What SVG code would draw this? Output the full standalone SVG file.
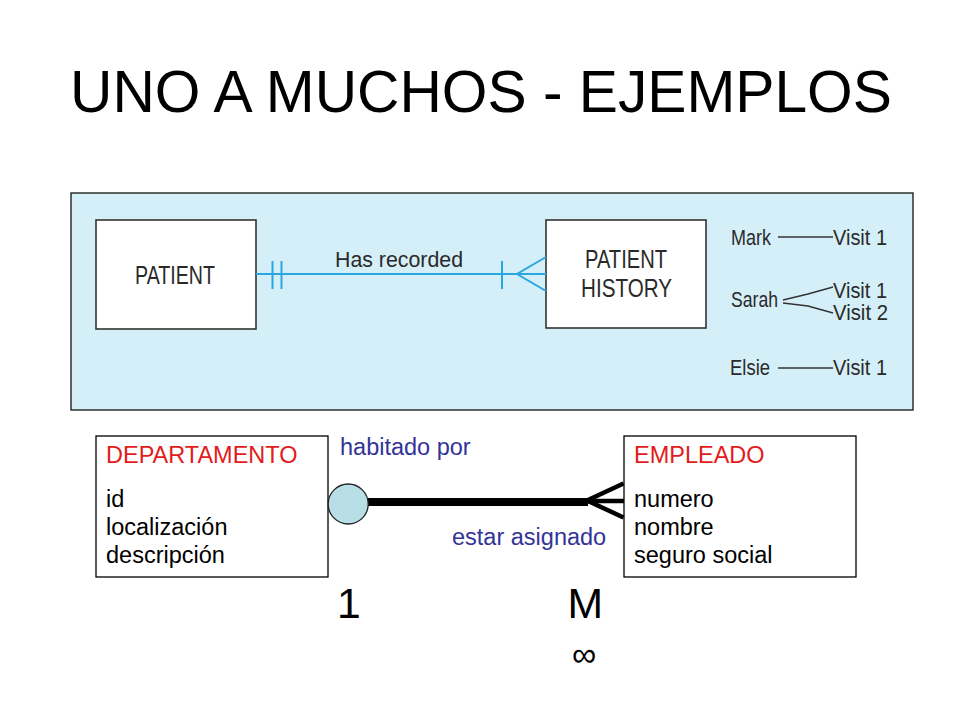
<svg xmlns="http://www.w3.org/2000/svg" width="960" height="720" viewBox="0 0 960 720">
<style>
.t{font-family:"Liberation Sans",Arial,sans-serif;}
.pat{font-family:"Liberation Sans",Arial,sans-serif;fill:#2a2a2a;}
.ent{fill:#ffffff;stroke:#333333;stroke-width:1.6;}
.box{fill:#ffffff;stroke:#000000;stroke-width:1.3;}
.cy{stroke:#2aa7df;stroke-width:2;fill:none;}
.bk{stroke:#333333;stroke-width:1.4;fill:none;}
.red{fill:#e31b1b;font-size:23.5px;}
.att{fill:#000000;font-size:23.5px;}
.lbl{fill:#333399;font-size:23.5px;}
.ex{font-size:21.5px;}
</style>
<rect width="960" height="720" fill="#ffffff"/>
<text class="t" x="481" y="112" font-size="58.7" text-anchor="middle" fill="#000000">UNO A MUCHOS - EJEMPLOS</text>

<g id="panel">
<rect x="71" y="193" width="842" height="217" fill="#d5eff9" stroke="#111111" stroke-width="1.3"/>
</g>

<g id="patient">
<rect class="ent" x="96" y="220" width="160" height="109"/>
<text class="pat" x="135" y="284" font-size="26" textLength="80" lengthAdjust="spacingAndGlyphs">PATIENT</text>
</g>

<g id="patient-history">
<rect class="ent" x="546" y="220" width="160" height="108"/>
<text class="pat" x="585" y="268" font-size="25" textLength="82" lengthAdjust="spacingAndGlyphs">PATIENT</text>
<text class="pat" x="581" y="297" font-size="25" textLength="91" lengthAdjust="spacingAndGlyphs">HISTORY</text>
</g>

<g id="examples">
<text class="pat ex" x="731" y="245" textLength="40" lengthAdjust="spacingAndGlyphs">Mark</text>
<text class="pat ex" x="833" y="245" textLength="54" lengthAdjust="spacingAndGlyphs">Visit 1</text>
<text class="pat ex" x="731" y="307" textLength="47" lengthAdjust="spacingAndGlyphs">Sarah</text>
<text class="pat ex" x="833" y="298" textLength="54" lengthAdjust="spacingAndGlyphs">Visit 1</text>
<text class="pat ex" x="833" y="320" textLength="55" lengthAdjust="spacingAndGlyphs">Visit 2</text>
<text class="pat ex" x="730" y="375" textLength="40" lengthAdjust="spacingAndGlyphs">Elsie</text>
<text class="pat ex" x="833" y="375" textLength="54" lengthAdjust="spacingAndGlyphs">Visit 1</text>
</g>

<g id="departamento">
<rect class="box" x="96" y="436" width="232" height="141"/>
<text class="t red" x="106" y="463">DEPARTAMENTO</text>
<text class="t att" x="106" y="507">id</text>
<text class="t att" x="106" y="535">localización</text>
<text class="t att" x="106" y="563">descripción</text>
</g>

<g id="empleado">
<rect class="box" x="624" y="436" width="232" height="141"/>
<text class="t red" x="634" y="463">EMPLEADO</text>
<text class="t att" x="634" y="507">numero</text>
<text class="t att" x="634" y="535">nombre</text>
<text class="t att" x="634" y="563">seguro social</text>
</g>

<g id="connectors">
<line class="cy" x1="256" y1="274" x2="546" y2="274"/>
<line class="cy" x1="272.5" y1="261" x2="272.5" y2="289"/>
<line class="cy" x1="281.5" y1="261" x2="281.5" y2="289"/>
<line class="cy" x1="502" y1="261" x2="502" y2="289"/>
<polyline class="cy" points="546,257 517,274 546,291"/>
<text class="pat" x="335" y="267" font-size="22.5" textLength="128" lengthAdjust="spacingAndGlyphs">Has recorded</text>

<line class="bk" x1="778" y1="237" x2="833" y2="237"/>
<polyline class="bk" points="783,300 808,294 833,287"/>
<polyline class="bk" points="783,303 808,306 833,313"/>
<line class="bk" x1="778" y1="368" x2="833" y2="368"/>

<line x1="366" y1="502" x2="588" y2="502" stroke="#000000" stroke-width="8"/>
<line x1="586" y1="501" x2="624" y2="501" stroke="#000000" stroke-width="4.5"/>
<polyline points="623.5,483.5 587,500.5 623.5,517.5" fill="none" stroke="#000000" stroke-width="4.5"/>
<circle cx="348.2" cy="504" r="20" fill="#b7dfe5" stroke="#222222" stroke-width="1.3"/>
<text class="t lbl" x="340" y="455">habitado por</text>
<text class="t lbl" x="452" y="545">estar asignado</text>
</g>

<text class="t" x="337" y="618" font-size="42.7" fill="#000000">1</text>
<text class="t" x="567.5" y="618" font-size="42.7" fill="#000000">M</text>
<text class="t" x="584" y="666" font-size="34" text-anchor="middle" fill="#000000">∞</text>
</svg>
